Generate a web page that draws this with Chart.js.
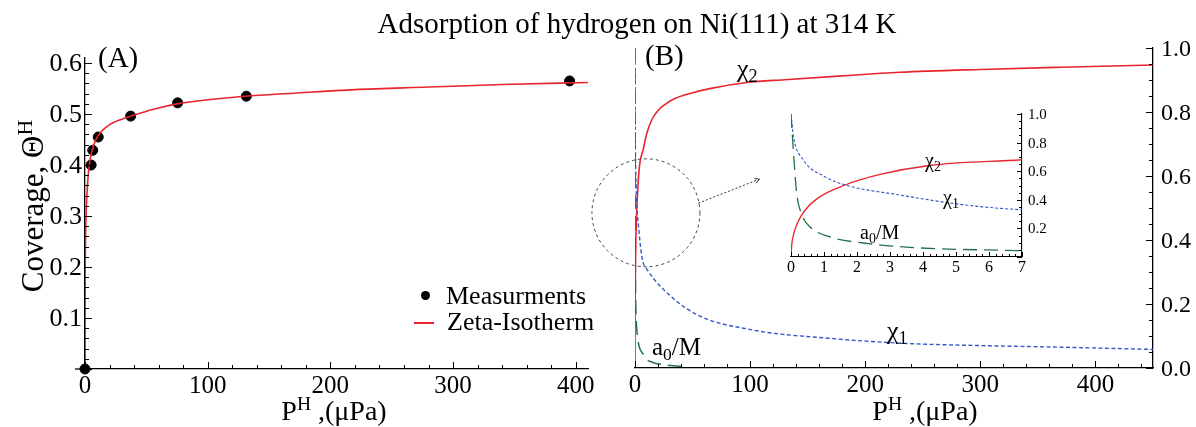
<!DOCTYPE html>
<html><head><meta charset="utf-8">
<script src="https://cdn.jsdelivr.net/npm/chart.js@4.4.1/dist/chart.umd.min.js"></script>
<style>
html,body{margin:0;padding:0;background:#fff;}
#wrap{position:relative;width:1196px;height:427px;overflow:hidden;font-family:'Liberation Serif','Times New Roman',serif;color:#000;}
canvas{position:absolute;}
.t{position:absolute;white-space:nowrap;line-height:1;}
sup{font-size:70%;vertical-align:0.5em;line-height:0;}
sub{font-size:70%;vertical-align:-0.3em;line-height:0;}
</style></head><body>
<div id="wrap">
<canvas id="cA" width="600" height="427" style="left:0;top:0"></canvas>
<canvas id="cB" width="636" height="427" style="left:560px;top:0"></canvas>
<canvas id="cI" width="310" height="185" style="left:760px;top:100px"></canvas>

<div class="t" style="left:637px;top:9px;font-size:29px;transform:translateX(-50%)">Adsorption of hydrogen on Ni(111) at 314 K</div>
<div class="t" style="left:98px;top:43px;font-size:29px">(A)</div>
<div class="t" style="left:645px;top:41px;font-size:29px">(B)</div>
<div class="t" style="left:334px;top:397px;font-size:28px;transform:translateX(-50%)">P<sup>H</sup> ,(μPa)</div>
<div class="t" style="left:925px;top:397px;font-size:28px;transform:translateX(-50%)">P<sup>H</sup> ,(μPa)</div>
<div class="t" style="left:32px;top:206px;font-size:31px;transform:translate(-50%,-50%) rotate(-90deg)">Coverage, Θ<sup>H</sup></div>

<div style="position:absolute;left:421px;top:291px;width:9px;height:9px;border-radius:50%;background:#000"></div>
<div class="t" style="left:446px;top:283px;font-size:26px">Measurments</div>
<div style="position:absolute;left:414px;top:322px;width:20px;height:2px;background:#e8242c"></div>
<div class="t" style="left:447px;top:309px;font-size:26px">Zeta-Isotherm</div>

<div class="t" style="left:737px;top:56px;font-size:26px">χ<sub>2</sub></div>
<div class="t" style="left:887px;top:318px;font-size:26px">χ<sub>1</sub></div>
<div class="t" style="left:652px;top:334px;font-size:25px">a<sub>0</sub>/M</div>
<div class="t" style="left:925px;top:150px;font-size:20px">χ<sub>2</sub></div>
<div class="t" style="left:943px;top:187px;font-size:20px">χ<sub>1</sub></div>
<div class="t" style="left:860px;top:222px;font-size:20px">a<sub>0</sub>/M</div>
</div>
<script>
// ---------- data ----------
const measX = [0, 5, 6.3, 10.8, 37.2, 75.5, 131.5, 395];
const measY = [0, 0.400, 0.429, 0.455, 0.496, 0.522, 0.535, 0.565];

const isoX = [0, 0.05, 0.2, 0.5, 1, 2, 3, 4.5, 6, 8, 10, 13, 17, 22, 30, 40, 55, 75, 100, 130, 170, 220, 280, 340, 410];
const isoY = [0, 0.12, 0.2, 0.26, 0.31, 0.36, 0.39, 0.415, 0.43, 0.445, 0.455, 0.465, 0.474, 0.482, 0.49, 0.498, 0.509, 0.520, 0.528, 0.535, 0.541, 0.548, 0.553, 0.558, 0.562];

const chi2X = [0, 0.02, 0.08, 0.2, 0.4, 0.8, 1.6, 2.7, 4.2, 7, 10, 14.5, 20, 27.5, 35, 47.8, 65, 97, 130, 180, 230, 300, 370, 450];
const chi2Y = [0, 0.08, 0.16, 0.24, 0.32, 0.41, 0.5, 0.577, 0.64, 0.68, 0.73, 0.775, 0.805, 0.827, 0.843, 0.858, 0.873, 0.892, 0.901, 0.913, 0.924, 0.933, 0.94, 0.947];

const chi1X = [0, 0.07, 0.37, 1, 1.7, 3.2, 5.2, 7, 10, 22.4, 52, 102, 168, 234, 300, 370, 450];
const chi1Y = [1.0, 0.85, 0.68, 0.565, 0.5, 0.437, 0.366, 0.33, 0.31, 0.254, 0.17, 0.119, 0.093, 0.077, 0.07, 0.065, 0.058];

const a0X = [0, 0.07, 0.17, 0.32, 0.58, 1.18, 2.2, 3.7, 7, 9.2, 15, 25, 36, 40];
const a0Y = [1.0, 0.75, 0.45, 0.3, 0.21, 0.14, 0.098, 0.066, 0.044, 0.03, 0.018, 0.01, 0.006, 0.005];

const ticksAx = [0, 100, 200, 300, 400];
const ticksAy = [0.1, 0.2, 0.3, 0.4, 0.5, 0.6];
const ticksBx = [0, 100, 200, 300, 400];
const ticksBy = [0.0, 0.2, 0.4, 0.6, 0.8, 1.0];
const ticksIx = [0, 1, 2, 3, 4, 5, 6, 7];
const ticksIy = [0.2, 0.4, 0.6, 0.8, 1.0];

const zoomCircle = {x: 9.5, y: 0.485};
const arrowFrom = {x: 55, y: 0.515};
const arrowTo = {x: 108, y: 0.59};

// ---------- helpers ----------
const pts = (xs, ys) => xs.map((x, i) => ({x, y: ys[i]}));
const RED = '#e8242c', BLUE = '#3557c8', GREEN = '#237048';
const wrap = document.getElementById('wrap');
Chart.defaults.animation = false;

function setTicks(arr){ return s => { s.ticks = arr.map(v => ({value: v})); }; }
function tickMarks(chart, id, step, every, majLen, minLen, side){
  const s = chart.scales[id], ctx = chart.ctx, a = chart.chartArea;
  const n0 = Math.ceil(s.min/step - 1e-6), n1 = Math.floor(s.max/step + 1e-6);
  ctx.save(); ctx.strokeStyle = '#000'; ctx.lineWidth = 1; ctx.beginPath();
  for (let n = n0; n <= n1; n++){
    const len = (n % every === 0) ? majLen : minLen;
    const p = Math.round(s.getPixelForValue(n*step)) + 0.5;
    if (side === 'bottom'){ ctx.moveTo(p, a.bottom); ctx.lineTo(p, a.bottom - len); }
    else if (side === 'left'){ ctx.moveTo(a.left, p); ctx.lineTo(a.left + len, p); }
    else { ctx.moveTo(a.right, p); ctx.lineTo(a.right - len, p); }
  }
  ctx.stroke(); ctx.restore();
}
// tick labels as page text, placed with the chart's own scale
function tickLabels(chart, id, side, size, pad, fmt){
  const s = chart.scales[id], a = chart.chartArea, cv = chart.canvas;
  const ox = cv.offsetLeft, oy = cv.offsetTop;
  s.ticks.forEach(t => {
    const d = document.createElement('div');
    d.className = 't'; d.style.fontSize = size + 'px';
    d.textContent = fmt(t.value);
    const p = s.getPixelForValue(t.value);
    if (side === 'bottom'){
      d.style.left = (ox + p) + 'px'; d.style.top = (oy + a.bottom + pad) + 'px';
      d.style.transform = 'translateX(-50%)';
    } else if (side === 'left'){
      d.style.right = (1196 - (ox + a.left - pad)) + 'px'; d.style.top = (oy + p) + 'px';
      d.style.transform = 'translateY(-50%)';
    } else {
      d.style.left = (ox + a.right + pad) + 'px'; d.style.top = (oy + p) + 'px';
      d.style.transform = 'translateY(-50%)';
    }
    wrap.appendChild(d);
  });
}
const lineDs = (label, data, color, dash, width) => ({
  label, data, showLine: true, borderColor: color, backgroundColor: color,
  borderWidth: width, borderDash: dash, pointRadius: 0, pointHoverRadius: 0,
  cubicInterpolationMode: 'monotone', fill: false
});
const f0 = v => String(v), f1 = v => v.toFixed(1);
const axisBase = {grid: {display: false}, ticks: {display: false}};

// ---------- Panel A ----------
new Chart(document.getElementById('cA'), {
  type: 'scatter',
  data: { datasets: [
    lineDs('Zeta-Isotherm', pts(isoX, isoY), RED, [], 1.6),
    { label: 'Measurments', data: pts(measX, measY), backgroundColor: '#000', borderColor: '#000',
      pointRadius: 5, pointHoverRadius: 5, showLine: false, clip: false }
  ]},
  options: {
    responsive: false, events: [],
    layout: { padding: {left: 0, top: 58, right: 12, bottom: 18} },
    plugins: { legend: {display: false}, tooltip: {enabled: false} },
    scales: {
      x: { ...axisBase, type: 'linear', min: 0, max: 410, afterBuildTicks: setTicks(ticksAx),
        afterFit: s => { s.height = 40; }, border: {display: true, color: '#000', width: 1.3} },
      y: { ...axisBase, type: 'linear', min: 0, max: 0.61, afterBuildTicks: setTicks(ticksAy),
        afterFit: s => { s.width = 85; }, border: {display: true, color: '#000', width: 1.3} }
    }
  },
  plugins: [{ id: 'ticksA', afterDraw(c){
    tickMarks(c, 'x', 20, 5, 7, 4, 'bottom');
    tickMarks(c, 'y', 0.02, 5, 7, 4, 'left');
    const a = c.chartArea, ctx = c.ctx;
    ctx.save(); ctx.strokeStyle = '#000'; ctx.lineWidth = 1.3;
    ctx.beginPath(); ctx.moveTo(a.left - 10, a.bottom); ctx.lineTo(a.left, a.bottom); ctx.stroke(); ctx.restore();
    if (!c.$lab){ c.$lab = 1;
      tickLabels(c, 'x', 'bottom', 25, 3, f0);
      tickLabels(c, 'y', 'left', 26, 3, f1);
    }
  }}]
});

// ---------- Panel B ----------
new Chart(document.getElementById('cB'), {
  type: 'scatter',
  data: { datasets: [
    lineDs('a0/M', pts(a0X, a0Y), GREEN, [14, 7], 1.5),
    lineDs('chi1', pts(chi1X, chi1Y), BLUE, [4, 2.5], 1.4),
    lineDs('chi2', pts(chi2X, chi2Y), RED, [], 1.6)
  ]},
  options: {
    responsive: false, events: [],
    layout: { padding: {left: 75, top: 48, right: 0, bottom: 19} },
    plugins: { legend: {display: false}, tooltip: {enabled: false} },
    scales: {
      x: { ...axisBase, type: 'linear', min: 0, max: 450, afterBuildTicks: setTicks(ticksBx),
        afterFit: s => { s.height = 40; }, border: {display: true, color: '#000', width: 1.3} },
      y: { ...axisBase, type: 'linear', position: 'right', min: 0, max: 1.0, afterBuildTicks: setTicks(ticksBy),
        afterFit: s => { s.width = 43; }, border: {display: true, color: '#000', width: 1.3} }
    }
  },
  plugins: [{ id: 'ticksB', afterDraw(c){
    tickMarks(c, 'x', 20, 5, 7, 4, 'bottom');
    tickMarks(c, 'y', 0.05, 4, 7, 4, 'right');
    const sx = c.scales.x, sy = c.scales.y, ctx = c.ctx;
    ctx.save();
    ctx.strokeStyle = '#444'; ctx.lineWidth = 1; ctx.setLineDash([3, 3]);
    ctx.beginPath();
    ctx.arc(sx.getPixelForValue(zoomCircle.x), sy.getPixelForValue(zoomCircle.y), 54, 0, Math.PI*2);
    ctx.stroke();
    const x0 = sx.getPixelForValue(arrowFrom.x), y0 = sy.getPixelForValue(arrowFrom.y);
    const x1 = sx.getPixelForValue(arrowTo.x), y1 = sy.getPixelForValue(arrowTo.y);
    ctx.setLineDash([2, 2]); ctx.strokeStyle = '#333';
    ctx.beginPath(); ctx.moveTo(x0, y0); ctx.lineTo(x1, y1); ctx.stroke();
    ctx.setLineDash([]);
    const ang = Math.atan2(y1 - y0, x1 - x0);
    ctx.beginPath();
    ctx.moveTo(x1, y1); ctx.lineTo(x1 - 5*Math.cos(ang - 0.5), y1 - 5*Math.sin(ang - 0.5));
    ctx.moveTo(x1, y1); ctx.lineTo(x1 - 5*Math.cos(ang + 0.5), y1 - 5*Math.sin(ang + 0.5));
    ctx.stroke();
    ctx.restore();
    if (!c.$lab){ c.$lab = 1;
      tickLabels(c, 'x', 'bottom', 25, 3, f0);
      tickLabels(c, 'y', 'right', 24, 8, f1);
    }
  }}]
});

// ---------- Inset ----------
new Chart(document.getElementById('cI'), {
  type: 'scatter',
  data: { datasets: [
    lineDs('a0/M', pts(a0X, a0Y), GREEN, [14, 7], 1.3),
    lineDs('chi1', pts(chi1X, chi1Y), BLUE, [3, 2], 1.1),
    lineDs('chi2', pts(chi2X, chi2Y), RED, [], 1.3)
  ]},
  options: {
    responsive: false, events: [],
    layout: { padding: {left: 31, top: 14, right: 18, bottom: 6} },
    plugins: { legend: {display: false}, tooltip: {enabled: false} },
    scales: {
      x: { ...axisBase, type: 'linear', min: 0, max: 7, afterBuildTicks: setTicks(ticksIx),
        afterFit: s => { s.height = 22; }, border: {display: true, color: '#000', width: 1.1} },
      y: { ...axisBase, type: 'linear', position: 'right', min: 0, max: 1.0, afterBuildTicks: setTicks(ticksIy),
        afterFit: s => { s.width = 30; }, border: {display: true, color: '#000', width: 1.1} }
    }
  },
  plugins: [{ id: 'ticksI', afterDraw(c){
    tickMarks(c, 'x', 0.2, 5, 5, 3, 'bottom');
    tickMarks(c, 'y', 0.05, 4, 5, 3, 'right');
    if (!c.$lab){ c.$lab = 1;
      tickLabels(c, 'x', 'bottom', 16, 2, f0);
      tickLabels(c, 'y', 'right', 15, 6, f1);
    }
  }}]
});
</script>
</body></html>
